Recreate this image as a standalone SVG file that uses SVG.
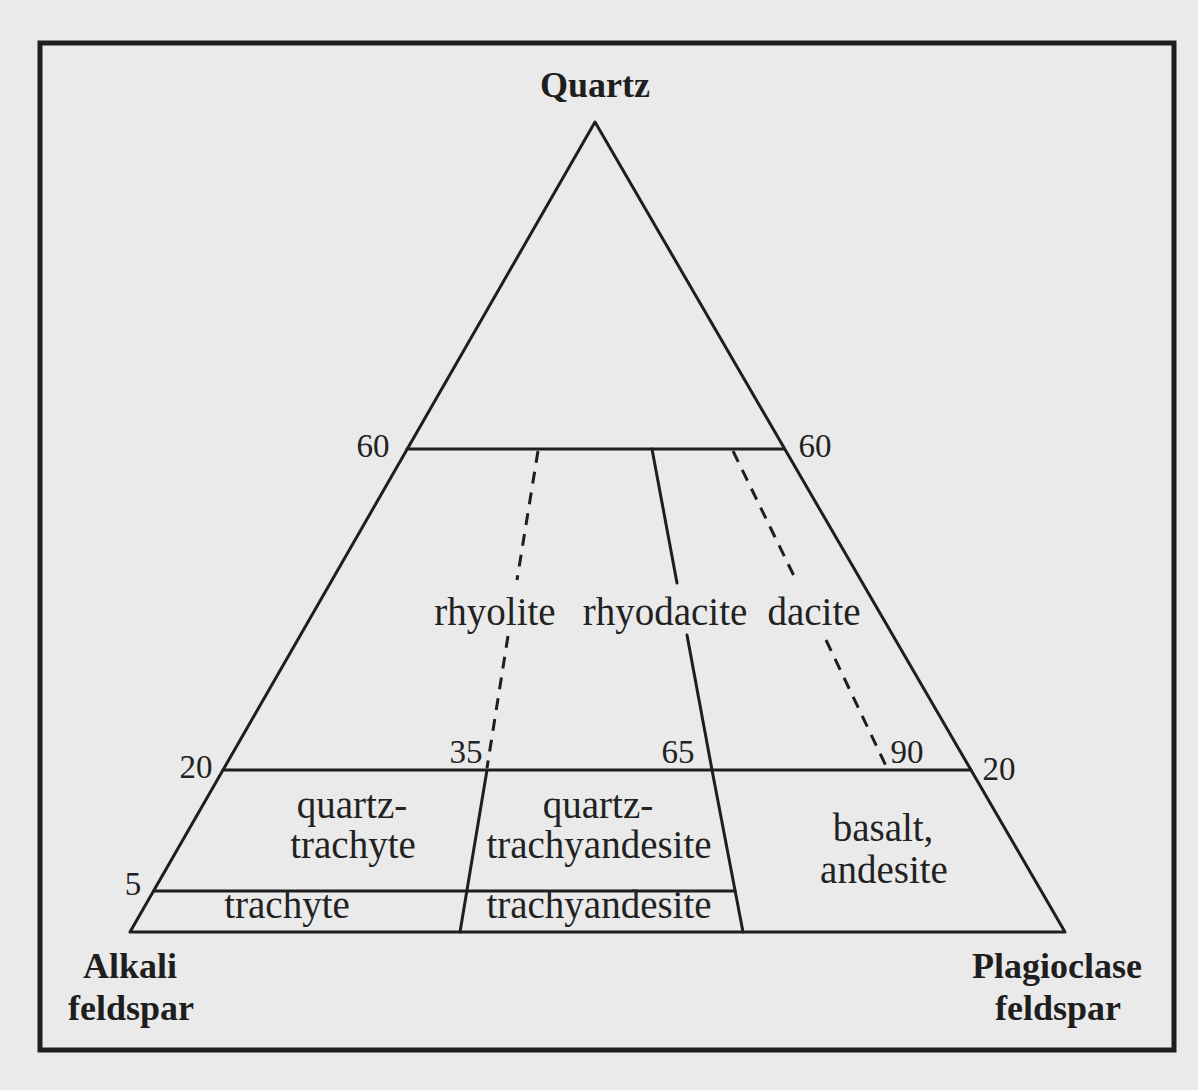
<svg xmlns="http://www.w3.org/2000/svg" width="1198" height="1090" viewBox="0 0 1198 1090">
<style>
.ln{stroke:#1e1e1e;stroke-width:3;fill:none;stroke-linecap:round;stroke-linejoin:round}
.ds{stroke:#1e1e1e;stroke-width:3;fill:none;stroke-dasharray:12 9}
.t{font-family:"Liberation Serif",serif;font-size:39px;fill:#222;text-anchor:middle}
.b{font-family:"Liberation Serif",serif;font-size:36px;font-weight:bold;fill:#1e1e1e;text-anchor:middle}
.n{font-family:"Liberation Serif",serif;font-size:33px;fill:#222;text-anchor:middle}
</style>
<rect x="0" y="0" width="1198" height="1090" fill="#eaeaea"/>
<rect id="frame" x="40" y="43" width="1134" height="1007" fill="none" stroke="#1e1e1e" stroke-width="5"/>
<g id="connectors">
<polygon class="ln" points="595,122 130,932 1065,932"/>
<line class="ln" x1="407" y1="449" x2="784" y2="449"/>
<line class="ln" x1="223" y1="770" x2="971" y2="770"/>
<line class="ln" x1="154" y1="891" x2="735" y2="891"/>
<line class="ds" x1="538" y1="451" x2="517" y2="580"/>
<line class="ds" x1="508" y1="636" x2="487" y2="768"/>
<line class="ln" x1="487" y1="770" x2="460" y2="932"/>
<line class="ln" x1="652" y1="449" x2="677" y2="583"/>
<line class="ln" x1="687" y1="635" x2="712" y2="770"/>
<line class="ln" x1="712" y1="770" x2="743" y2="932"/>
<line class="ds" x1="733" y1="451" x2="794" y2="576"/>
<line class="ds" x1="826" y1="640" x2="887" y2="768"/>
</g>
<g id="quartz"><text class="b" x="595" y="97">Quartz</text></g>
<g id="alkali"><text class="b" x="130" y="978">Alkali</text><text class="b" x="131" y="1020">feldspar</text></g>
<g id="plagioclase"><text class="b" x="1057" y="978">Plagioclase</text><text class="b" x="1058" y="1020">feldspar</text></g>
<g id="ticks">
<text class="n" x="373" y="457">60</text>
<text class="n" x="815" y="457">60</text>
<text class="n" x="196" y="778">20</text>
<text class="n" x="999" y="780">20</text>
<text class="n" x="466" y="763">35</text>
<text class="n" x="678" y="763">65</text>
<text class="n" x="907" y="763">90</text>
<text class="n" x="133" y="895">5</text>
</g>
<g id="rhyolite"><text class="t" x="495" y="625">rhyolite</text></g>
<g id="rhyodacite"><text class="t" x="665" y="625">rhyodacite</text></g>
<g id="dacite"><text class="t" x="814" y="625">dacite</text></g>
<g id="quartz-trachyte"><text class="t" x="352" y="818">quartz-</text><text class="t" x="353" y="858">trachyte</text></g>
<g id="quartz-trachyandesite"><text class="t" x="598" y="818">quartz-</text><text class="t" x="599" y="858">trachyandesite</text></g>
<g id="basalt-andesite"><text class="t" x="883" y="841">basalt,</text><text class="t" x="884" y="883">andesite</text></g>
<g id="trachyte"><text class="t" x="287" y="918">trachyte</text></g>
<g id="trachyandesite"><text class="t" x="599" y="918">trachyandesite</text></g>
</svg>
